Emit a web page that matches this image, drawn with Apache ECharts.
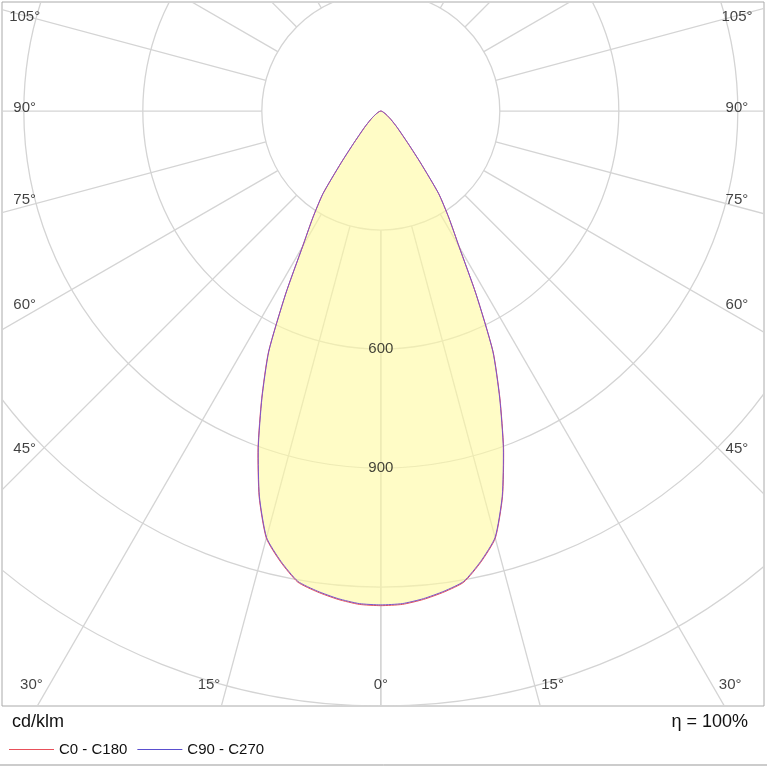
<!DOCTYPE html>
<html><head><meta charset="utf-8">
<script src="https://cdn.jsdelivr.net/npm/echarts@6/dist/echarts.min.js"></script>
<style>html,body{margin:0;padding:0;background:#fff}#chart{width:767px;height:767px}</style>
</head><body><div id="chart"></div>
<script>
// intensity, cd/klm, at gamma angle (deg from nadir), C0-C180 and C90-C270
var gammaAngles=[0,2.5,5,7.5,10,12.5,15,17.5,20,22.5,25,27.5,30,32.5,35,37.5,40,45,50,55,60,70,80,90];
var intensityC0=[1247,1245,1236,1223,1206,1165,1115,1020,905,785,670,520,395,320,255,165,108,58,34,20,12,5,2,0];
var intensityC90=[1245,1243,1234,1221,1204,1163,1113,1018,903,783,668,519,394,319,254,164,108,58,34,20,12,5,2,0];
var ringValues=[300,600,900,1200,1500];
var ringLabels=[600,900];
var spokeAngles=[0,15,30,45,60,75,90,105,120,135,150,165,180];
var sideLabelAngles=[45,60,75,90,105];
var bottomLabelAngles=[30,15,0];

var chart=echarts.init(document.getElementById('chart'));
var rad=function(d){return d*Math.PI/180;};

function curvePoints(vals){
  var pts=[];
  for(var i=gammaAngles.length-1;i>=0;i--){var a=-gammaAngles[i];pts.push([vals[i]*Math.sin(rad(a)),-vals[i]*Math.cos(rad(a))]);}
  for(var j=1;j<gammaAngles.length;j++){var b=gammaAngles[j];pts.push([vals[j]*Math.sin(rad(b)),-vals[j]*Math.cos(rad(b))]);}
  return pts;
}
var curves={'fill':curvePoints(intensityC0),'C0 - C180':curvePoints(intensityC0),'C90 - C270':curvePoints(intensityC90)};
function polyRender(fill,stroke,width){
  return function(params,api){
    var data=curves[params.seriesName];
    return {type:'polygon',shape:{points:data.map(function(p){return api.coord(p);}),smooth:0.2},
      style:{fill:fill,stroke:stroke,lineWidth:width}};
  };
}

var gridData=[];
ringValues.forEach(function(r){gridData.push(['ring',r]);});
spokeAngles.forEach(function(a){gridData.push(['spoke',a]);});

var labelData=[];
var sideX=860;
sideLabelAngles.forEach(function(a){
  var y=-sideX/Math.tan(rad(a));
  labelData.push({value:[-sideX,y],name:a+'°',label:{offset:[-15,-3]}});
  labelData.push({value:[sideX,y],name:a+'°',label:{offset:[15,-3]}});
});
bottomLabelAngles.forEach(function(a){
  var y=-1447,x=1447*Math.tan(rad(a));
  var off=a===0?0:18;
  labelData.push({value:[-x,y],name:a+'°',label:{offset:[-off,0]}});
  if(a!==0)labelData.push({value:[x,y],name:a+'°',label:{offset:[off,0]}});
});
ringLabels.forEach(function(r){labelData.push({value:[0,-r],name:String(r)});});

var font='"Liberation Sans", Arial, sans-serif';
chart.setOption({
  animation:false,
  grid:{left:2,right:3,top:2,bottom:61,show:true,borderColor:'#aaa',borderWidth:1},
  xAxis:{type:'value',min:-955,max:966,show:false},
  yAxis:{type:'value',min:-1500,max:275,show:false},
  legend:{left:4,top:737,itemGap:10,itemWidth:45,itemHeight:1,icon:'rect',
    textStyle:{fontFamily:font,fontSize:15,color:'#111'},data:['C0 - C180','C90 - C270']},
  graphic:[
    {type:'text',left:12,top:713,style:{text:'cd/klm',font:'18px '+font,fill:'#111'}},
    {type:'text',right:19,top:713,style:{text:'η = 100%',font:'18px '+font,fill:'#111'}},
    {type:'line',shape:{x1:0,y1:765,x2:767,y2:765},style:{stroke:'#999',lineWidth:1}}
  ],
  series:[
    {type:'custom',name:'grid',silent:true,clip:true,data:gridData,
     renderItem:function(params,api){
       var kind=gridData[params.dataIndex][0],v=gridData[params.dataIndex][1];
       var c=api.coord([0,0]);
       if(kind==='ring'){
         var r=api.size([v,0])[0];
         return {type:'circle',shape:{cx:c[0],cy:c[1],r:r},style:{fill:null,stroke:'#d4d4d4',lineWidth:1.3}};
       }
       var s=Math.sin(rad(v)),k=Math.cos(rad(v));
       var p1=api.coord([300*s,-300*k]),p2=api.coord([3000*s,-3000*k]);
       var q1=api.coord([-300*s,-300*k]),q2=api.coord([-3000*s,-3000*k]);
       return {type:'group',children:[
         {type:'line',shape:{x1:p1[0],y1:p1[1],x2:p2[0],y2:p2[1]},style:{stroke:'#d4d4d4',lineWidth:1.3}},
         {type:'line',shape:{x1:q1[0],y1:q1[1],x2:q2[0],y2:q2[1]},style:{stroke:'#d4d4d4',lineWidth:1.3}}]};
     }},
    {type:'custom',name:'fill',silent:true,data:[[0,0]],renderItem:polyRender('rgba(255,250,160,0.6)',null,0)},
    {type:'custom',name:'C0 - C180',itemStyle:{color:'#e8505a'},silent:true,data:[[0,0]],renderItem:polyRender(null,'#e8505a',1)},
    {type:'custom',name:'C90 - C270',itemStyle:{color:'#5a4fcf'},silent:true,data:[[0,0]],renderItem:polyRender(null,'#7a55cc',1)},
    {type:'scatter',symbolSize:0,silent:true,data:labelData,z:10,
     label:{show:true,position:'inside',formatter:'{b}',fontFamily:font,fontSize:15,color:'#111'}}
  ]
});
</script></body></html>
